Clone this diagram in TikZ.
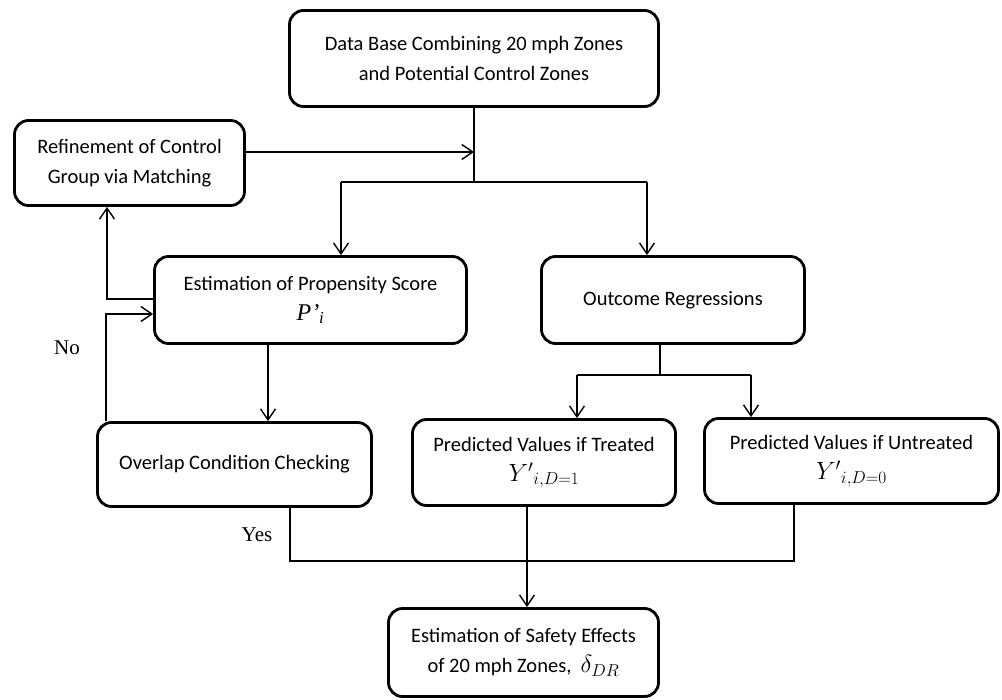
\documentclass[tikz,border=0pt]{standalone}
\usepackage{fontspec}
\setmainfont{Carlito}
\newfontfamily\timesfont{Liberation Serif}
\usetikzlibrary{arrows.meta}
\newcommand{\mathbigsize}{\fontsize{25}{30}\selectfont}
\begin{document}
\begin{tikzpicture}[x=1pt,y=-1pt,
  box/.style={draw, line width=2.8pt, rounded corners=14pt, align=center,
    font=\fontsize{20.5}{30}\selectfont, inner sep=0pt},
  conn/.style={line width=1.4pt},
  arr/.style={conn, -{Straight Barb[length=11pt,width=15pt,line width=1.4pt]}},
  lbl/.style={font=\timesfont\fontsize{21}{24}\selectfont, inner sep=0pt}]
\useasboundingbox (0,0) rectangle (1002,700);
% boxes
\node[box, minimum width=369pt, minimum height=96pt] (db) at (474,58.5)
  {Data Base Combining 20 mph Zones\\and Potential Control Zones};
\node[box, minimum width=230pt, minimum height=85pt] (ref) at (129.5,163)
  {Refinement of Control\\Group via Matching};
\node[box, minimum width=312pt, minimum height=87pt] (ps) at (310.5,300)
  {Estimation of Propensity Score\\{\timesfont\itshape\fontsize{24}{29}\selectfont P’\textsubscript{i}}};
\node[box, minimum width=263pt, minimum height=87pt] (or) at (673,300)
  {Outcome Regressions};
\node[box, minimum width=274pt, minimum height=84pt] (ov) at (234.5,464.5)
  {Overlap Condition Checking};
\node[box, minimum width=263pt, minimum height=86pt] (tr) at (544,462.5)
  {Predicted Values if Treated\\{\mathbigsize ${Y'}_{i,D=1}$}};
\node[box, minimum width=294pt, minimum height=85pt] (un) at (851.5,461)
  {Predicted Values if Untreated\\{\mathbigsize ${Y'}_{i,D=0}$}};
\node[box, minimum width=270pt, minimum height=88pt] (sf) at (523.5,652.5)
  {Estimation of Safety Effects\\of 20 mph Zones,\ \ {\mathbigsize $\delta_{DR}$}};
% labels
\node[lbl] (no) at (67,348) {No};
\node[lbl] (yes) at (257,535) {Yes};
% junction coordinates
\coordinate (jdb) at (474,182);
\coordinate (jdbl) at (341,182);
\coordinate (jdbr) at (647,182);
\coordinate (jref) at (474,152);
\coordinate (aup) at (107,299);
\coordinate (aback) at (106,314);
\coordinate (apsdown) at (268,0);
\coordinate (jor) at (660,375);
\coordinate (jorl) at (577,375);
\coordinate (jorr) at (751,375);
\coordinate (jbl) at (290,561);
\coordinate (jbr) at (794,561);
\coordinate (jtr) at (527,0);
% connectors
\draw[conn] (db.south -| jdb) -- (jdb);
\draw[conn] (jdbl) -- (jdbr);
\draw[arr] (jdbl) -- (jdbl |- ps.north);
\draw[arr] (jdbr) -- (jdbr |- or.north);
\draw[arr] (ref.east |- jref) -- (jref);
\draw[arr] (aup -| ps.west) -- (aup) -- (aup |- ref.south);
\draw[arr] (aback |- ov.north) -- (aback) -- (aback -| ps.west);
\draw[arr] (apsdown |- ps.south) -- (apsdown |- ov.north);
\draw[conn] (or.south -| jor) -- (jor);
\draw[conn] (jorl) -- (jorr);
\draw[arr] (jorl) -- (jorl |- tr.north);
\draw[arr] (jorr) -- (jorr |- un.north);
\draw[conn] (jbl |- ov.south) -- (jbl) -- (jbr) -- (jbr |- un.south);
\draw[arr] (jtr |- tr.south) -- (jtr |- sf.north);
\end{tikzpicture}
\end{document}
